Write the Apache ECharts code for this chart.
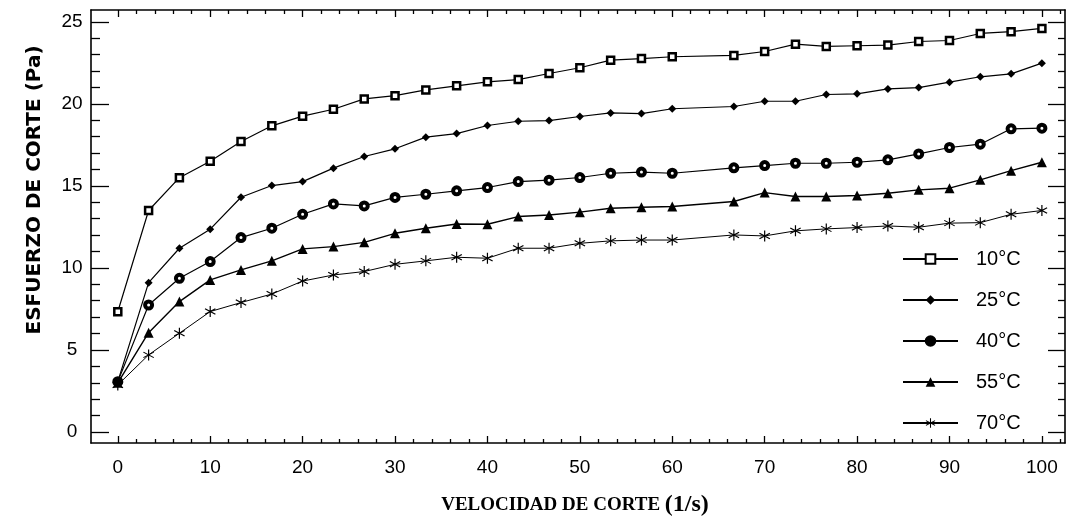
<!DOCTYPE html>
<html>
<head>
<meta charset="utf-8">
<script src="https://cdn.jsdelivr.net/npm/echarts@6/dist/echarts.min.js"></script>
<style>
html,body{margin:0;padding:0;background:#fff;}
#chart{width:1067px;height:521px;}
</style>
</head>
<body>
<div id="chart"></div>
<script>
// ---- data ----
const shearRate = [0, 3.333, 6.667, 10, 13.333, 16.667, 20, 23.333, 26.667, 30,
  33.333, 36.667, 40, 43.333, 46.667, 50, 53.333, 56.667, 60,
  66.667, 70, 73.333, 76.667, 80, 83.333, 86.667, 90, 93.333, 96.667, 100];
const seriesNames = ['10°C', '25°C', '40°C', '55°C', '70°C'];
const stress10 = [7.33, 13.5, 15.5, 16.5, 17.7, 18.66, 19.25, 19.67, 20.3, 20.5,
  20.85, 21.1, 21.34, 21.48, 21.85, 22.2, 22.66, 22.76, 22.87,
  22.95, 23.19, 23.64, 23.5, 23.54, 23.58, 23.8, 23.86, 24.29, 24.4, 24.6];
const stress25 = [3.07, 9.1, 11.2, 12.36, 14.31, 15.02, 15.26, 16.08, 16.79, 17.26,
  17.97, 18.19, 18.68, 18.94, 18.98, 19.23, 19.45, 19.41, 19.7,
  19.84, 20.16, 20.16, 20.57, 20.61, 20.91, 20.99, 21.32, 21.65, 21.83, 22.48];
const stress40 = [3.07, 7.74, 9.37, 10.39, 11.85, 12.42, 13.27, 13.9, 13.78, 14.3,
  14.49, 14.7, 14.9, 15.26, 15.35, 15.51, 15.77, 15.84, 15.77,
  16.1, 16.24, 16.38, 16.38, 16.44, 16.59, 16.95, 17.34, 17.54, 18.48, 18.52];
const stress55 = [3.0, 6.05, 7.95, 9.27, 9.88, 10.43, 11.16, 11.3, 11.56, 12.11,
  12.42, 12.68, 12.66, 13.13, 13.23, 13.4, 13.64, 13.7, 13.74,
  14.05, 14.59, 14.35, 14.35, 14.41, 14.55, 14.76, 14.86, 15.37, 15.93, 16.44];
const stress70 = [2.87, 4.7, 6.02, 7.34, 7.89, 8.41, 9.2, 9.57, 9.78, 10.22,
  10.43, 10.65, 10.59, 11.2, 11.2, 11.5, 11.65, 11.7, 11.7,
  12.01, 11.95, 12.26, 12.38, 12.46, 12.56, 12.48, 12.73, 12.76, 13.27, 13.5];
const xMajorTicks = [0, 10, 20, 30, 40, 50, 60, 70, 80, 90, 100];
const xMinorTicks = [2, 4, 6, 8, 12, 14, 16, 18, 22, 24, 26, 28, 32, 34, 36, 38, 42, 44, 46, 48,
  52, 54, 56, 58, 62, 64, 66, 68, 72, 74, 76, 78, 82, 84, 86, 88, 92, 94, 96, 98, 102];
const yMajorTicks = [0, 5, 10, 15, 20, 25];
const yMinorTicks = [1, 2, 3, 4, 6, 7, 8, 9, 11, 12, 13, 14, 16, 17, 18, 19, 21, 22, 23, 24];
const xTitle = 'VELOCIDAD DE CORTE ';
const xTitleUnit = '(1/s)';
const yTitle = 'ESFUERZO DE CORTE (Pa)';

// ---- chart ----
const X_MIN = -2.9, X_MAX = 102.5, Y_MIN = -0.67, Y_MAX = 25.72;
const narrow = "'Liberation Sans Narrow', 'Arial Narrow', 'Liberation Sans', Arial, sans-serif";
const starPath = 'path://M9 0L11 0L11 20L9 20Z M1.8 4.13L19.2 14.13L18.2 15.87L0.8 5.87Z M0.8 14.13L18.2 4.13L19.2 5.87L1.8 15.87Z';

function pairs(ys) { return shearRate.map((x, i) => [x, ys[i]]); }

function xAx(pos, ticks, len, showLine, showLabel) {
  return {
    type: 'value', position: pos, min: X_MIN, max: X_MAX,
    axisLine: { show: showLine, onZero: false, lineStyle: { color: '#000', width: 1.6 } },
    axisTick: { show: true, inside: true, length: len, customValues: ticks, lineStyle: { color: '#000', width: 1.3 } },
    axisLabel: showLabel ? { show: true, customValues: ticks, margin: 15, color: '#000', fontSize: 19, fontFamily: narrow } : { show: false },
    splitLine: { show: false }
  };
}
function yAx(pos, ticks, len, showLine, showLabel) {
  return {
    type: 'value', position: pos, min: Y_MIN, max: Y_MAX,
    axisLine: { show: showLine, onZero: false, lineStyle: { color: '#000', width: 1.6 } },
    axisTick: { show: true, inside: true, length: len, customValues: ticks, lineStyle: { color: '#000', width: 1.3 } },
    axisLabel: showLabel ? { show: true, customValues: ticks, margin: 19, align: 'center', color: '#000', fontSize: 19, fontFamily: narrow } : { show: false },
    splitLine: { show: false }
  };
}

const markerDefs = [
  { symbol: 'rect', size: 7, fill: '#fff', bw: 2.5, lw: 1.2 },
  { symbol: 'diamond', size: 8, fill: '#000', bw: 0, lw: 1.2 },
  { symbol: 'circle', size: 7, fill: '#fff', bw: 4, lw: 1.2 },
  { symbol: 'triangle', size: 10, fill: '#000', bw: 0, lw: 1.4 },
  { symbol: starPath, size: 11, fill: '#000', bw: 0, lw: 1.0 }
];
const allData = [stress10, stress25, stress40, stress55, stress70];

const option = {
  animation: false,
  backgroundColor: '#fff',
  grid: { left: 91, right: 2, top: 10, bottom: 78, containLabel: false },
  xAxis: [
    xAx('bottom', xMajorTicks, 7, true, true),
    xAx('bottom', xMinorTicks, 4, false, false),
    xAx('top', xMajorTicks, 7, true, false),
    xAx('top', xMinorTicks, 4, false, false)
  ],
  yAxis: [
    yAx('left', yMajorTicks, 18, true, true),
    yAx('left', yMinorTicks, 9, false, false),
    yAx('right', yMajorTicks, 17, true, false),
    yAx('right', yMinorTicks, 7, false, false)
  ],
  legend: {
    data: seriesNames.map((n, i) => i === 2 ? { name: n, itemStyle: { color: '#000' } } : n),
    orient: 'vertical',
    left: 902, top: 249,
    padding: 0,
    itemWidth: 55, itemHeight: 12, itemGap: 21,
    textStyle: { color: '#000', fontSize: 20, fontFamily: narrow, padding: [0, 0, 0, 13] }
  },
  graphic: [
    {
      type: 'text', x: 35, y: 190, rotation: Math.PI / 2,
      style: { text: yTitle, align: 'center', verticalAlign: 'middle', fill: '#000',
        font: "bold 20px 'DejaVu Sans', sans-serif" }
    },
    {
      type: 'text', x: 575, y: 505,
      style: {
        text: '{a|' + xTitle + '}{b|' + xTitleUnit + '}', align: 'center', verticalAlign: 'middle',
        rich: {
          a: { fontFamily: "'Liberation Serif', 'Times New Roman', serif", fontWeight: 'bold', fontSize: 19, fill: '#000', color: '#000' },
          b: { fontFamily: "'Liberation Serif', 'Times New Roman', serif", fontWeight: 'bold', fontSize: 24, fill: '#000', color: '#000' }
        }
      }
    }
  ],
  series: seriesNames.map((name, i) => ({
    name: name, type: 'line', xAxisIndex: 0, yAxisIndex: 0,
    data: pairs(allData[i]),
    symbol: markerDefs[i].symbol, symbolSize: markerDefs[i].size,
    showAllSymbol: true,
    lineStyle: { color: '#000', width: markerDefs[i].lw },
    itemStyle: { color: markerDefs[i].fill, borderColor: '#000', borderWidth: markerDefs[i].bw },
    emphasis: { disabled: true },
    z: 10 - i
  }))
};

const chart = echarts.init(document.getElementById('chart'), null, { renderer: 'canvas' });
chart.setOption(option);
</script>
</body>
</html>
